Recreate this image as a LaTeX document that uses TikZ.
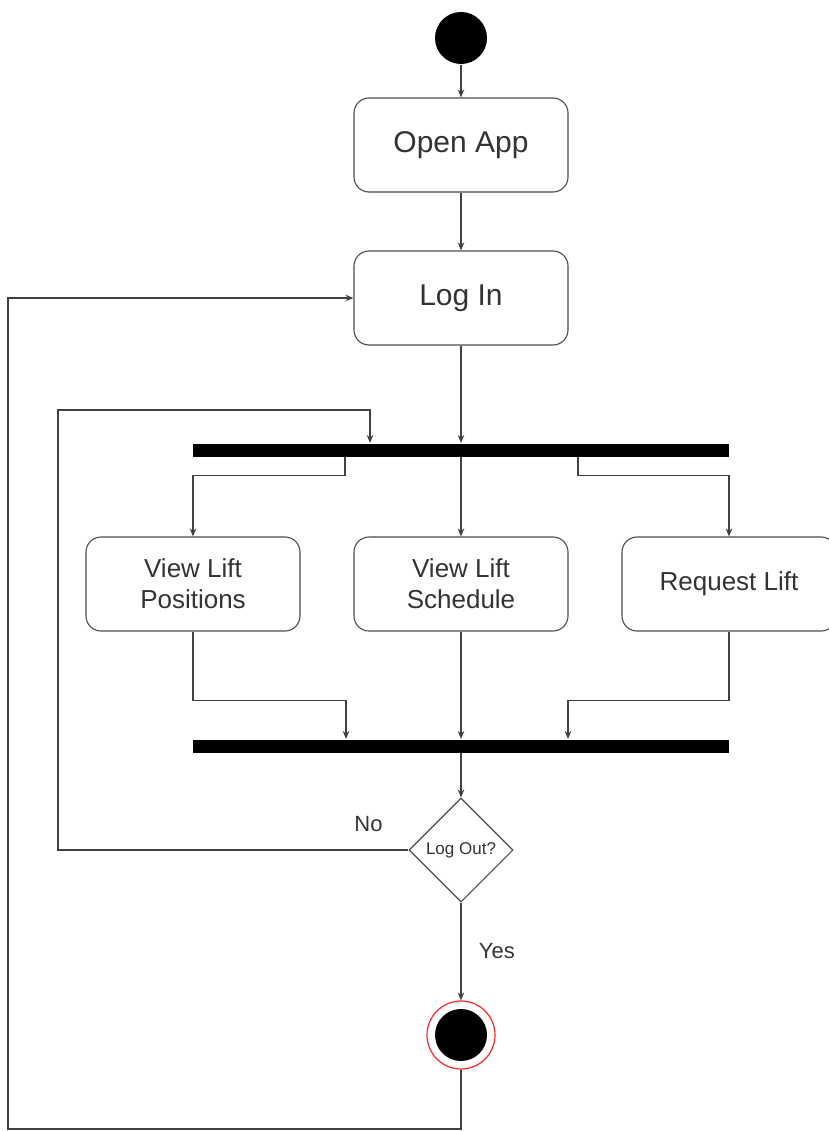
\documentclass[tikz,border=0pt]{standalone}
\usepackage{fontspec}
\setmainfont{Liberation Sans}
\usetikzlibrary{arrows.meta,positioning,shapes.geometric}

\begin{document}
\begin{tikzpicture}[x=1pt,y=-1pt,on grid,
    line width=1.1pt,
    flow/.style={draw=black!75,-{Stealth[length=8pt,width=6.5pt]}},
    initial/.style={circle,fill=black,minimum size=52pt,inner sep=0pt},
    final/.style={circle,draw=red!85,fill=white,line width=1.2pt,minimum size=68pt,inner sep=0pt,
      path picture={\fill[black] (path picture bounding box.center) circle (26pt);}},
    activity/.style={rectangle,rounded corners=15pt,draw=black!70,minimum width=214pt,minimum height=94pt,
      align=center,text=black!80,font=\fontsize{26}{31}\selectfont},
    bigact/.style={activity,font=\fontsize{30}{36}\selectfont},
    bar/.style={rectangle,fill=black,minimum width=536pt,minimum height=13pt,inner sep=0pt},
    choice/.style={diamond,draw=black!70,minimum width=104pt,minimum height=104pt,inner sep=0pt,
      text=black!80,font=\fontsize{17}{20}\selectfont},
    lbl/.style={text=black!80,font=\fontsize{22}{26}\selectfont}]
   \useasboundingbox (0,0) rectangle (828,1131);
   \node[initial] (start) at (461,38) {};
   \node[bigact] (open) [below=107pt of start] {Open App};
   \node[bigact] (login) [below=153pt of open] {Log In};
   \node[bar] (fork) [below=152pt of login] {};
   \node[activity] (sched) [below=134pt of fork] {View Lift\\Schedule};
   \node[activity] (pos) [left=268pt of sched] {View Lift\\Positions};
   \node[activity] (req) [right=268pt of sched] {Request Lift};
   \node[bar] (join) [below=162pt of sched] {};
   \node[choice] (logout) [below=104pt of join] {Log Out?};
   \node[final] (stop) [below=185pt of logout] {};
   \coordinate (loopno) at (58,410);
   \coordinate (loopback) at (8,1129);
    \path[flow]
    (start) edge (open)
    (open) edge (login)
    (login) edge (fork)
    (fork) edge (sched)
    (sched) edge (join)
    (join) edge (logout)
    (logout) edge node [lbl,right=14pt] {Yes} (stop);
    \draw[flow] ([xshift=-116pt]fork.south) -- ++(0,18) -| (pos.north);
    \draw[flow] ([xshift=117pt]fork.south) -- ++(0,18) -| (req.north);
    \draw[flow] (pos.south) -- ++(0,69) -| ([xshift=-115pt]join.north);
    \draw[flow] (req.south) -- ++(0,69) -| ([xshift=107pt]join.north);
    \draw[flow] (logout.west) -- node [lbl,above=14pt] {No} ++(-80,0) -| (loopno) -| ([xshift=-91pt]fork.north);
    \draw[flow] (stop.south) |- (loopback) |- (login.west);
\end{tikzpicture}
\end{document}
